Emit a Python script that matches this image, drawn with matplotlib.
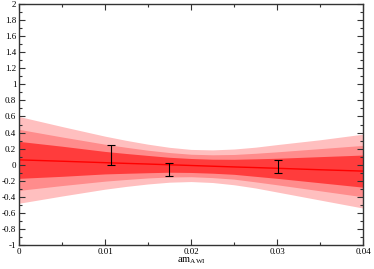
import matplotlib
matplotlib.use('Agg')
import matplotlib.pyplot as plt
from matplotlib.ticker import MultipleLocator, FuncFormatter

plt.rcParams['font.family'] = 'Liberation Serif'
plt.rcParams['mathtext.fontset'] = 'custom'
plt.rcParams['mathtext.rm'] = 'Liberation Serif'
plt.rcParams['mathtext.it'] = 'Liberation Serif:italic'

# fit band
band_x = [0.0, 0.005, 0.01, 0.0125, 0.015, 0.0175, 0.02, 0.0225, 0.025,
          0.0275, 0.03, 0.035, 0.04]
fit_line = [0.06, 0.043, 0.025, 0.016, 0.008, -0.001, -0.01, -0.019, -0.028,
            -0.036, -0.045, -0.063, -0.08]
outer_hi = [0.60, 0.475, 0.355, 0.302, 0.255, 0.216, 0.19, 0.184, 0.195,
            0.218, 0.25, 0.31, 0.38]
outer_lo = [-0.48, -0.39, -0.305, -0.27, -0.24, -0.218, -0.21, -0.222, -0.25,
            -0.29, -0.34, -0.44, -0.54]
mid_hi = [0.44, 0.345, 0.255, 0.216, 0.18, 0.151, 0.13, 0.123, 0.127,
          0.142, 0.16, 0.20, 0.24]
mid_lo = [-0.32, -0.26, -0.205, -0.184, -0.165, -0.153, -0.15, -0.161, -0.18,
          -0.214, -0.25, -0.325, -0.40]
inner_hi = [0.29, 0.23, 0.165, 0.139, 0.115, 0.092, 0.077, 0.068, 0.067,
            0.073, 0.08, 0.10, 0.12]
inner_lo = [-0.17, -0.145, -0.115, -0.107, -0.10, -0.094, -0.097, -0.106, -0.12,
            -0.145, -0.17, -0.225, -0.28]

# data points
pt_x = [0.0107, 0.0174, 0.0301]
pt_y = [0.122, -0.058, -0.026]
pt_err = [0.122, 0.078, 0.081]

fig = plt.figure(figsize=(3.74, 2.69), dpi=100)
ax = fig.add_axes([0.0508, 0.0892, 0.9198, 0.8958])

ax.fill_between(band_x, outer_lo, outer_hi, color='#ffbfbf', lw=0)
ax.fill_between(band_x, mid_lo, mid_hi, color='#ff8c8c', lw=0)
ax.fill_between(band_x, inner_lo, inner_hi, color='#ff3c3c', lw=0)
ax.plot(band_x, fit_line, color='#ff0000', lw=1.0)

ax.errorbar(pt_x, pt_y, yerr=pt_err, fmt='none', ecolor='black',
            elinewidth=0.8, capsize=2.6, capthick=0.8)

ax.set_xlim(0, 0.04)
ax.set_ylim(-1, 2)
ax.xaxis.set_major_locator(MultipleLocator(0.01))
ax.xaxis.set_minor_locator(MultipleLocator(0.005))
ax.yaxis.set_major_locator(MultipleLocator(0.2))
ax.yaxis.set_minor_locator(MultipleLocator(0.1))
ax.xaxis.set_major_formatter(FuncFormatter(lambda v, p: '0' if abs(v) < 1e-12 else f'{v:g}'))
ax.yaxis.set_major_formatter(FuncFormatter(lambda v, p: '0' if abs(v) < 1e-9 else f'{round(v, 1):g}'))

ax.tick_params(which='both', direction='in', top=True, right=True,
               labelsize=6.5, width=0.8, color='#333333', pad=2)
ax.tick_params(which='major', length=4)
ax.tick_params(which='minor', length=2)
for s in ax.spines.values():
    s.set_linewidth(1.0)
    s.set_color('#333333')

ax.set_xlabel(r'am$_{\mathrm{AWI}}$', fontsize=7.5, labelpad=0)

fig.savefig('out.png', dpi=100)
